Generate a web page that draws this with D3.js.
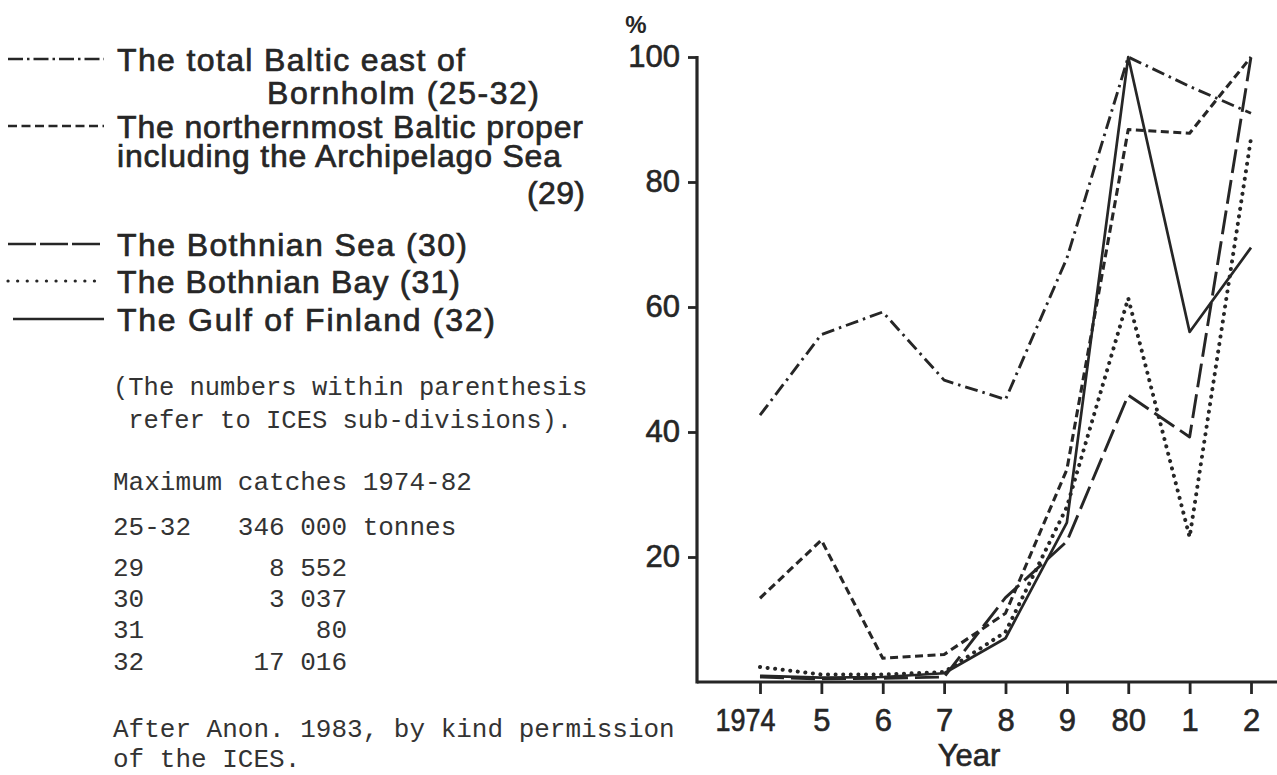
<!DOCTYPE html>
<html>
<head>
<meta charset="utf-8">
<script src="https://cdn.jsdelivr.net/npm/d3@7"></script>
<style>
  html, body { margin: 0; padding: 0; background: #ffffff; }
  svg { display: block; }
</style>
</head>
<body>
<script>
// ---- data ----
const years = [1974, 1975, 1976, 1977, 1978, 1979, 1980, 1981, 1982];
const yearLabels = ["1974", "5", "6", "7", "8", "9", "80", "1", "2"];
const yTicks = [20, 40, 60, 80, 100];

const totalBaltic   = [42.7, 55.6, 59.2, 48.3, 45.2, 67.8, 100, 95.3, 91];   // 25-32
const northBaltic   = [13.4, 22.7, 3.8, 4.4, 11, 34, 88.4, 87.8, 100];       // 29
const bothnianSea   = [0.8, 0.5, 0.6, 0.8, 13.5, 22.5, 45.9, 39.2, 100];     // 30
const bothnianBay   = [2.4, 1.2, 1.2, 1.6, 8, 28, 61.4, 23.2, 87];           // 31
const gulfFinland   = [1.0, 0.7, 0.8, 1.4, 7, 25.5, 100, 56, 69.5];          // 32

const seriesNames = ["total", "north", "sea", "bay", "gulf"];
const seriesValues = [totalBaltic, northBaltic, bothnianSea, bothnianBay, gulfFinland];

const legendLines = [
  ["The total Baltic east of", "Bornholm (25-32)"],
  ["The northernmost Baltic proper", "including the Archipelago Sea", "(29)"],
  ["The Bothnian Sea (30)"],
  ["The Bothnian Bay (31)"],
  ["The Gulf of Finland (32)"]
];

const noteLines = ["(The numbers within parenthesis", " refer to ICES sub-divisions)."];
const tableLines = [
  "Maximum catches 1974-82",
  "25-32   346 000 tonnes",
  "29        8 552",
  "30        3 037",
  "31           80",
  "32       17 016"
];
const sourceLines = ["After Anon. 1983, by kind permission", "of the ICES."];

// ---- styles ----
const ink = "#262626";
const dashes = {
  total: "13,5,2.5,5",
  north: "8,4.5",
  sea: "24,7",
  bay: "0.1,7.5",
  gulf: null
};
const lineWidths = { total: 2.9, north: 3.1, sea: 2.9, bay: 4, gulf: 2.7 };
const legendDashes = {
  total: "15,4,2.5,4",
  north: "9,4.5",
  sea: "28,4",
  bay: "0.1,9.5",
  gulf: null
};
// legend text geometry (layout only)
const legendBaselines = [[71, 104], [138, 167, 204], [256], [293], [331]];
const legendWidths = [[348, 272], [466, 444, 58], [350], [343], [378]];
const legendSampleY = [59, 126, 244, 281, 319];

const W = 1277, H = 775;
const svg = d3.select("body").append("svg").attr("width", W).attr("height", H);
svg.append("rect").attr("width", W).attr("height", H).attr("fill", "#ffffff");

const x = d3.scaleLinear().domain([1974, 1982]).range([760, 1251]);
const y = d3.scaleLinear().domain([0, 100]).range([682, 57]);
const axisX0 = 697, axisY0 = 682;

const sans = "'Liberation Sans', Arial, Helvetica, sans-serif";
const mono = "'Liberation Mono', 'Courier New', monospace";

// ---- axes ----
const gx = svg.append("g").attr("transform", `translate(0,${axisY0})`)
  .call(d3.axisBottom(x).tickValues(years).tickSize(12).tickFormat((d, i) => yearLabels[i]));
gx.select(".domain").remove();
gx.selectAll(".tick line").attr("stroke", ink).attr("stroke-width", 2.8);
gx.selectAll(".tick text")
  .attr("dy", null).attr("y", 49)
  .attr("font-family", sans).attr("font-size", 31)
  .attr("fill", ink).attr("stroke", ink).attr("stroke-width", 0.6)
  .each(function(d, i) {
    if (i === 0) d3.select(this).attr("dx", -15).attr("textLength", 60).attr("lengthAdjust", "spacingAndGlyphs");
  });

const gy = svg.append("g").attr("transform", `translate(${axisX0},0)`)
  .call(d3.axisLeft(y).tickValues(yTicks).tickSize(9).tickPadding(8));
gy.select(".domain").remove();
gy.selectAll(".tick line").attr("stroke", ink).attr("stroke-width", 2.8);
gy.selectAll(".tick text")
  .attr("font-family", sans).attr("font-size", 31)
  .attr("fill", ink).attr("stroke", ink).attr("stroke-width", 0.6);

// axis lines
svg.append("line").attr("x1", axisX0).attr("x2", axisX0).attr("y1", y(100) - 1).attr("y2", axisY0 + 1.5)
  .attr("stroke", ink).attr("stroke-width", 3.2);
svg.append("line").attr("x1", axisX0).attr("x2", W).attr("y1", axisY0).attr("y2", axisY0)
  .attr("stroke", ink).attr("stroke-width", 3.2);

svg.append("text").attr("x", 636).attr("y", 33).attr("text-anchor", "middle")
  .attr("font-family", sans).attr("font-size", 24).attr("font-weight", "bold")
  .attr("fill", ink).text("%");

svg.append("text").attr("x", 969).attr("y", 766).attr("text-anchor", "middle")
  .attr("font-family", sans).attr("font-size", 31)
  .attr("fill", ink).attr("stroke", ink).attr("stroke-width", 0.6).text("Year");

// ---- lines ----
const lineGen = d3.line().x((d, i) => x(years[i])).y(d => y(d));
seriesNames.forEach((name, k) => {
  svg.append("path")
    .datum(seriesValues[k])
    .attr("d", lineGen)
    .attr("fill", "none")
    .attr("stroke", ink)
    .attr("stroke-width", lineWidths[name])
    .attr("stroke-linecap", name === "bay" ? "round" : "butt")
    .attr("stroke-linejoin", "round")
    .attr("stroke-dasharray", dashes[name]);
});

// ---- legend ----
const legendTextX = 117;
seriesNames.forEach((name, k) => {
  svg.append("line")
    .attr("x1", name === "gulf" ? 13 : 8).attr("x2", 104)
    .attr("y1", legendSampleY[k]).attr("y2", legendSampleY[k])
    .attr("stroke", ink)
    .attr("stroke-width", name === "bay" ? 3.2 : 2.6)
    .attr("stroke-linecap", name === "bay" ? "round" : "butt")
    .attr("stroke-dasharray", legendDashes[name]);
  legendLines[k].forEach((t, j) => {
    const txt = svg.append("text")
      .attr("y", legendBaselines[k][j])
      .attr("font-family", sans).attr("font-size", 32)
      .attr("textLength", legendWidths[k][j]).attr("lengthAdjust", "spacing")
      .attr("fill", ink).attr("stroke", ink).attr("stroke-width", 0.7)
      .text(t);
    if (k === 0 && j === 1) txt.attr("x", 267);
    else if (k === 1 && j === 2) txt.attr("x", 585 - legendWidths[k][j]);
    else txt.attr("x", legendTextX);
  });
});

// ---- notes ----
const monoX = 113;
const noteBase = [395, 428];
noteLines.forEach((t, i) => {
  svg.append("text").attr("x", monoX).attr("y", noteBase[i])
    .attr("font-family", mono).attr("font-size", 25.5)
    .style("white-space", "pre").attr("fill", "#333").text(t);
});
const tableBase = [490, 535, 576, 607, 638, 670];
tableLines.forEach((t, i) => {
  svg.append("text").attr("x", monoX).attr("y", tableBase[i])
    .attr("font-family", mono).attr("font-size", 26)
    .style("white-space", "pre").attr("fill", "#333").text(t);
});
const sourceBase = [737, 767];
sourceLines.forEach((t, i) => {
  svg.append("text").attr("x", monoX).attr("y", sourceBase[i])
    .attr("font-family", mono).attr("font-size", 26)
    .style("white-space", "pre").attr("fill", "#333").text(t);
});
</script>
</body>
</html>
